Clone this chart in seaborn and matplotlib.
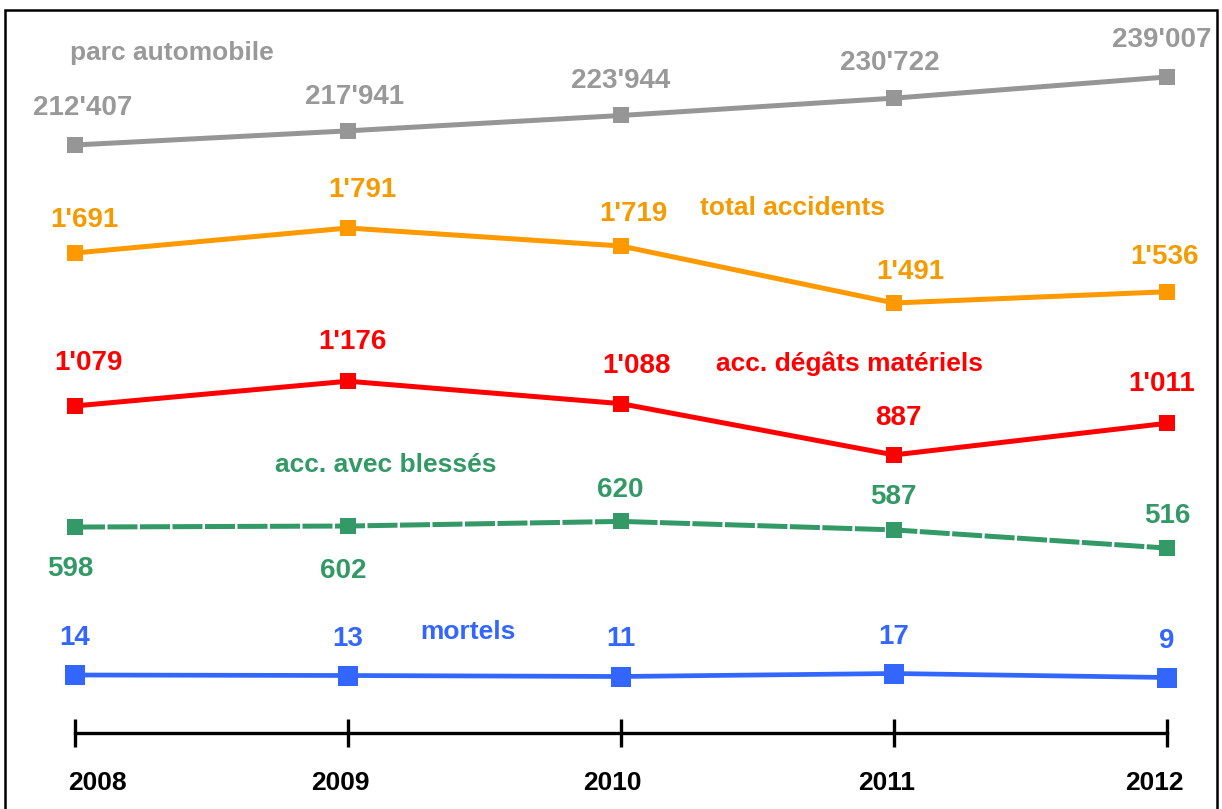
import matplotlib
matplotlib.use("Agg")
import matplotlib.pyplot as plt
import matplotlib.transforms as mtransforms
from matplotlib.patches import Rectangle
import pandas as pd
import seaborn as sns

years = [2008, 2009, 2010, 2011, 2012]
parc = [212407, 217941, 223944, 230722, 239007]
total = [1691, 1791, 1719, 1491, 1536]
degats = [1079, 1176, 1088, 887, 1011]
blesses = [598, 602, 620, 587, 516]
mortels = [14, 13, 11, 17, 9]

names = ["parc automobile", "total accidents", "acc. dégâts matériels",
         "acc. avec blessés", "mortels"]

sns.set_theme(style="white")
plt.rcParams["font.family"] = ["Liberation Sans", "DejaVu Sans"]

W, H = 1222, 809
fig = plt.figure(figsize=(W / 100, H / 100), dpi=100)
ax = fig.add_axes([75 / W, (H - 733) / H, (1167 - 75) / W, (733 - 10) / H])

# one y-scale per series, stacked in bands
series = [
    dict(vals=parc, color="#969696", tcolor="#999999", ylim=(-17501, 265192),
         ms=11.5, lw=3.6, ls="-",
         offs=[(8, 37), (7, 34), (0, 34), (-4, 35), (-5, 37)],
         name_xy=(70, 53)),
    dict(vals=total, color="#FF9900", tcolor="#F59B00", ylim=(-229, 2663),
         ms=11.5, lw=3.6, ls="-",
         offs=[(9, 33), (14, 38), (12, 32), (16, 31), (-2, 35)],
         name_xy=(700, 208)),
    dict(vals=degats, color="#FF0000", tcolor="#FF0000", ylim=(-203, 2631),
         ms=11.5, lw=3.6, ls="-",
         offs=[(13, 43), (4, 39), (16, 38), (4, 37), (-5, 39)],
         name_xy=(716, 364)),
    dict(vals=blesses, color="#339966", tcolor="#339966", ylim=(-205, 2614),
         ms=11.5, lw=3.6, ls=(0, (6, 0.5)),
         offs=[(-5, -42), (-5, -45), (-1, 31), (-1, 33), (0, 32)],
         name_xy=(275, 465)),
    dict(vals=mortels, color="#3366FF", tcolor="#3366FF", ylim=(-102, 1344),
         ms=14, lw=3.4, ls="-",
         offs=[(0, 37)] * 5,
         name_xy=(420, 632)),
]

for s, name in zip(series, names):
    tax = ax.twinx()
    df = pd.DataFrame({"year": years, "value": s["vals"]})
    sns.lineplot(data=df, x="year", y="value", ax=tax, color=s["color"],
                 marker="s", markersize=s["ms"], markeredgewidth=0,
                 linewidth=s["lw"], linestyle=s["ls"], clip_on=False)
    tax.set_ylim(*s["ylim"])
    tax.set_axis_off()
    for x, v, (dx, dy) in zip(years, s["vals"], s["offs"]):
        tax.annotate(f"{v:,}".replace(",", "'"), (x, v), xytext=(dx, dy),
                     textcoords="offset pixels", ha="center", va="center",
                     fontsize=20, fontweight="bold", color=s["tcolor"])
    fig.text(s["name_xy"][0] / W, 1 - s["name_xy"][1] / H, name,
             ha="left", va="center", fontsize=19, fontweight="bold",
             color=s["tcolor"])

ax.set_xlim(2008, 2012)
ax.set_ylim(0, 1)
ax.set_yticks([])
ax.set_xticks(years)
ax.set_xticklabels([str(y) for y in years])
for sp in ["top", "left", "right"]:
    ax.spines[sp].set_visible(False)
ax.spines["bottom"].set_color("black")
ax.spines["bottom"].set_linewidth(2.4)
ax.tick_params(axis="x", direction="inout", length=20, width=2.4,
               color="black", bottom=True, pad=17, labelsize=19)
ax.set_xlabel("")
label_shift = [22, -8, -9, -7, -13]
for lab, dx in zip(ax.get_xticklabels(), label_shift):
    lab.set_fontweight("bold")
    lab.set_color("black")
    lab.set_transform(lab.get_transform() +
                      mtransforms.ScaledTranslation(dx / 100, 0, fig.dpi_scale_trans))

# outer frame
fig.patches.append(Rectangle((5 / W, -0.05), (1217 - 5) / W, 1.05 - 10 / H,
                             transform=fig.transFigure, fill=False,
                             edgecolor="black", linewidth=1.8))

fig.savefig("out.png", dpi=100)
